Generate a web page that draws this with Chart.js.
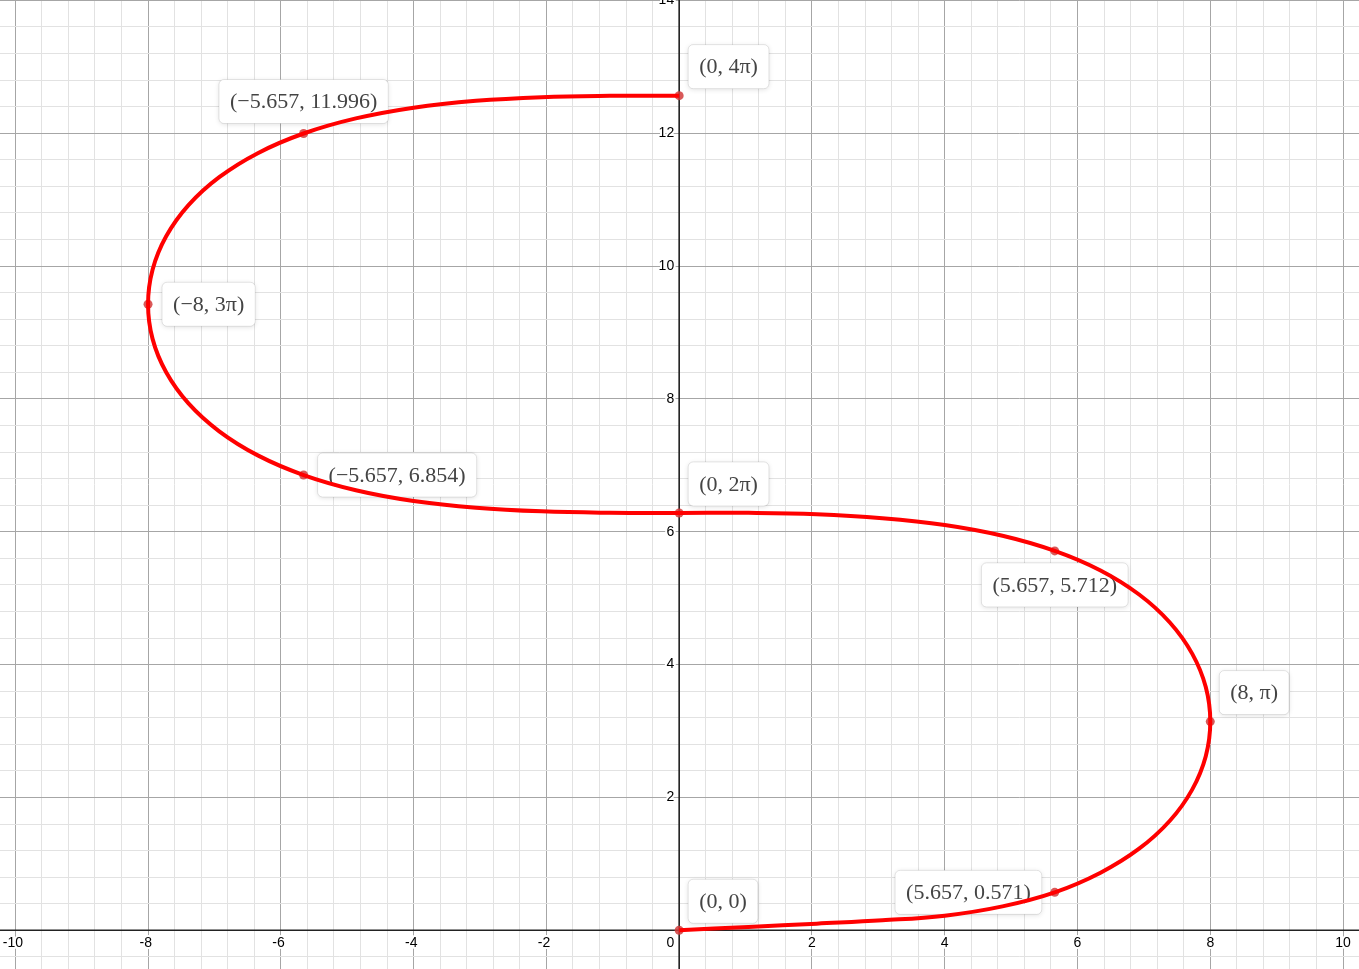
<!DOCTYPE html>
<html>
<head>
<meta charset="utf-8">
<title>x = 8 sin(t/2), y = t − sin t</title>
<script src="https://cdn.jsdelivr.net/npm/chart.js@4.4.1/dist/chart.umd.min.js"></script>
<style>
  html, body { margin: 0; padding: 0; background: #fff; }
  canvas { display: block; }
</style>
</head>
<body>
<canvas id="grafico" width="1359" height="969"></canvas>
<script>
// Curva
const curveX = [0, 1.044, 2.071, 3.061, 4, 4.870, 5.657, 6.347, 6.928, 7.391, 7.727, 7.932, 8,
  7.932, 7.727, 7.391, 6.928, 6.347, 5.657, 4.870, 4, 3.061, 2.071, 1.044, 0,
  -1.044, -2.071, -3.061, -4, -4.870, -5.657, -6.347, -6.928, -7.391, -7.727, -7.932, -8,
  -7.932, -7.727, -7.391, -6.928, -6.347, -5.657, -4.870, -4, -3.061, -2.071, -1.044, 0];
const curveY = [0, 0.05, 0.10, 0.15, 0.22, 0.36, 0.571, 0.867, 1.228, 1.649, 2.118, 2.621, 3.142,
  3.662, 4.165, 4.634, 5.055, 5.417, 5.712, 5.940, 6.102, 6.205, 6.265, 6.285, 6.283,
  6.286, 6.307, 6.362, 6.464, 6.626, 6.854, 7.150, 7.512, 7.932, 8.401, 8.904, 9.425,
  9.945, 10.448, 10.917, 11.338, 11.700, 11.996, 12.223, 12.385, 12.488, 12.543, 12.563, 12.566];

// Pontos marcados e rótulos
const pointX = [0, 5.657, 8, 5.657, 0, -5.657, -8, -5.657, 0];
const pointY = [0, 0.571, 3.142, 5.712, 6.283, 6.854, 9.425, 11.996, 12.566];
const pointLabels = ['(0, 0)', '(5.657, 0.571)', '(8, π)', '(5.657, 5.712)', '(0, 2π)',
  '(−5.657, 6.854)', '(−8, 3π)', '(−5.657, 11.996)', '(0, 4π)'];
const labelSide = ['ar', 'l', 'ar', 'b', 'ar', 'r', 'r', 'a', 'ar'];

// Eixos
const xTickValues = [-10, -8, -6, -4, -2, 2, 4, 6, 8, 10];
const xTickLabels = ['-10', '-8', '-6', '-4', '-2', '2', '4', '6', '8', '10'];
const yTickValues = [2, 4, 6, 8, 10, 12, 14];
const yTickLabels = ['2', '4', '6', '8', '10', '12', '14'];

function gradeTicks(from, to) {
  const t = [];
  for (let i = from; i <= to; i++) t.push({ value: i * 0.4 });
  return t;
}

function corGrade(c) {
  const v = Math.round(c.tick.value * 10);
  return v % 20 === 0 ? '#a6a6a6' : '#e2e2e2';
}

function halo(ctx, s, px, py) {
  ctx.strokeText(s, px, py);
  ctx.fillText(s, px, py);
}

const eixos = {
  id: 'eixos',
  beforeDatasetsDraw(chart) {
    const { ctx, chartArea: a, scales: { x, y } } = chart;
    const x0 = x.getPixelForValue(0);
    const y0 = y.getPixelForValue(0);
    ctx.save();
    ctx.strokeStyle = '#222';
    ctx.lineWidth = 1.6;
    ctx.beginPath();
    ctx.moveTo(a.left, y0); ctx.lineTo(a.right, y0);
    ctx.moveTo(x0, a.top); ctx.lineTo(x0, a.bottom);
    ctx.stroke();

    ctx.font = '14px "Liberation Sans", Arial, sans-serif';
    ctx.lineWidth = 4;
    ctx.lineJoin = 'round';
    ctx.strokeStyle = '#fff';
    ctx.fillStyle = '#000';
    ctx.textAlign = 'center';
    ctx.textBaseline = 'top';
    const menos = ctx.measureText('-').width;
    xTickValues.forEach((v, i) => {
      const s = xTickLabels[i];
      let px = x.getPixelForValue(v);
      if (s.startsWith('-')) px -= menos / 2;
      halo(ctx, s, px, y0 + 6);
    });
    ctx.textAlign = 'right';
    ctx.textBaseline = 'middle';
    yTickValues.forEach((v, i) => halo(ctx, yTickLabels[i], x0 - 5, y.getPixelForValue(v)));
    ctx.textBaseline = 'top';
    halo(ctx, '0', x0 - 5, y0 + 6);
    ctx.restore();
  },
  beforeDatasetDraw(chart, args) {
    if (args.index !== 0) return;
    const { ctx, scales: { x, y } } = chart;
    ctx.save();
    ctx.font = '22px "Liberation Serif", "Times New Roman", serif';
    ctx.textAlign = 'center';
    ctx.textBaseline = 'middle';
    pointLabels.forEach((s, i) => {
      const px = x.getPixelForValue(pointX[i]);
      const py = y.getPixelForValue(pointY[i]);
      const w = ctx.measureText(s).width + 22;
      const h = 44;
      let bx, by;
      switch (labelSide[i]) {
        case 'ar': bx = px + 9; by = py - 7 - h; break;
        case 'l': bx = px - 13 - w; by = py - h / 2; break;
        case 'r': bx = px + 14; by = py - h / 2; break;
        case 'b': bx = px - w / 2; by = py + 12; break;
        case 'a': bx = px - w / 2; by = py - 10 - h; break;
      }
      ctx.shadowColor = 'rgba(0,0,0,0.12)';
      ctx.shadowBlur = 5;
      ctx.shadowOffsetY = 1;
      ctx.fillStyle = '#fff';
      ctx.beginPath();
      ctx.roundRect(bx, by, w, h, 5);
      ctx.fill();
      ctx.shadowColor = 'transparent';
      ctx.strokeStyle = 'rgba(0,0,0,0.1)';
      ctx.lineWidth = 1;
      ctx.stroke();
      ctx.fillStyle = '#444';
      ctx.fillText(s, bx + w / 2, by + h / 2 + 1);
    });
    ctx.restore();
  }
};

const ctx = document.getElementById('grafico').getContext('2d');
new Chart(ctx, {
  type: 'scatter',
  data: {
    datasets: [
      {
        label: 'curva',
        data: curveX.map((v, i) => ({ x: v, y: curveY[i] })),
        showLine: true,
        borderColor: '#ff0000',
        borderWidth: 4,
        tension: 0.4,
        pointRadius: 0,
        order: 0,
      },
      {
        label: 'pontos',
        data: pointX.map((v, i) => ({ x: v, y: pointY[i] })),
        backgroundColor: 'rgba(210,60,60,0.85)',
        borderWidth: 0,
        pointRadius: 4.5,
        order: 1,
      },
    ],
  },
  options: {
    responsive: false,
    animation: false,
    layout: { padding: 0, autoPadding: false },
    plugins: { legend: { display: false }, tooltip: { enabled: false } },
    scales: {
      x: {
        type: 'linear', min: -10.23, max: 10.24,
        afterBuildTicks: s => { s.ticks = gradeTicks(-25, 25); },
        ticks: { display: false },
        grid: { color: corGrade, drawTicks: false, lineWidth: 1 },
        border: { display: false },
      },
      y: {
        type: 'linear', min: -0.583, max: 14.006,
        afterBuildTicks: s => { s.ticks = gradeTicks(-1, 35); },
        ticks: { display: false },
        grid: { color: corGrade, drawTicks: false, lineWidth: 1 },
        border: { display: false },
      },
    },
  },
  plugins: [eixos],
});
</script>
</body>
</html>
